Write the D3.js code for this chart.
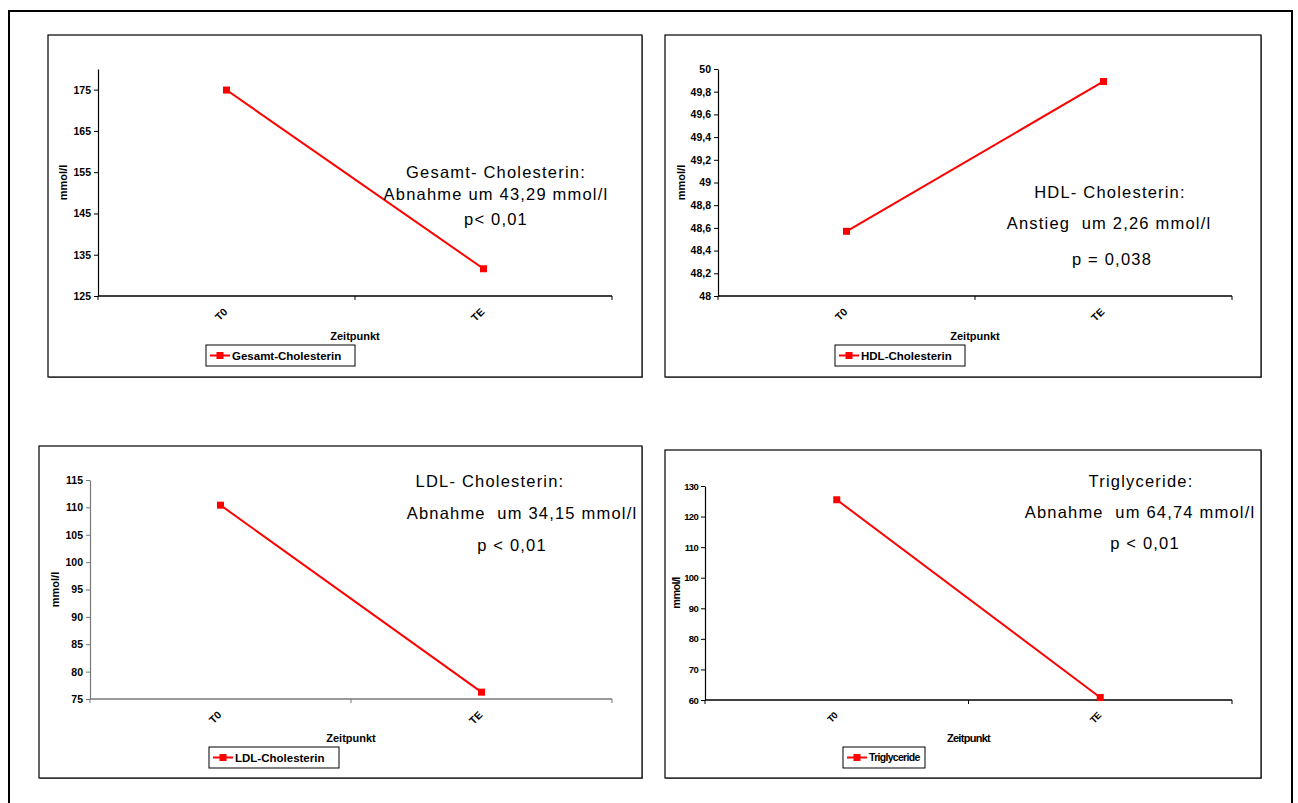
<!DOCTYPE html>
<html><head><meta charset="utf-8">
<script src="https://cdn.jsdelivr.net/npm/d3@7"></script>
<style>
html,body{margin:0;padding:0;background:#fff;}
svg{display:block;font-family:"Liberation Sans",Arial,sans-serif;}
</style></head>
<body>
<svg id="c" width="1298" height="803"></svg>
<script>
// ---- data ----
const categories = ["T0", "TE"];

const gesamtValues = [174.9, 131.6];
const gesamtTicks = [125, 135, 145, 155, 165, 175];
const gesamtDomain = [125, 180];

const hdlValues = [48.57, 49.89];
const hdlTicks = [48, 48.2, 48.4, 48.6, 48.8, 49, 49.2, 49.4, 49.6, 49.8, 50];
const hdlDomain = [48, 50];

const ldlValues = [110.4, 76.25];
const ldlTicks = [75, 80, 85, 90, 95, 100, 105, 110, 115];
const ldlDomain = [75, 115];

const trigValues = [125.5, 60.8];
const trigTicks = [60, 70, 80, 90, 100, 110, 120, 130];
const trigDomain = [60, 130];

const gesamtNotes = ["Gesamt- Cholesterin:", "Abnahme um 43,29 mmol/l", "p< 0,01"];
const hdlNotes = ["HDL- Cholesterin:", "Anstieg  um 2,26 mmol/l", "p = 0,038"];
const ldlNotes = ["LDL- Cholesterin:", "Abnahme  um 34,15 mmol/l", "p < 0,01"];
const trigNotes = ["Triglyceride:", "Abnahme  um 64,74 mmol/l", "p < 0,01"];

// ---- drawing ----
const svg = d3.select("#c");
svg.append("rect").attr("width",1298).attr("height",803).attr("fill","#fff");
// outer frame
svg.append("rect").attr("x",9).attr("y",11).attr("width",1283).attr("height",800)
  .attr("fill","none").attr("stroke","#000").attr("stroke-width",2);

const fmt = v => String(v).replace(".", ",");

function panel(cfg) {
  const g = svg.append("g");
  // frame
  g.append("rect").attr("x",cfg.box[0]+1).attr("y",cfg.box[1]+1)
    .attr("width",cfg.box[2]-cfg.box[0]).attr("height",cfg.box[3]-cfg.box[1])
    .attr("fill","#888");
  g.append("rect").attr("x",cfg.box[0]).attr("y",cfg.box[1])
    .attr("width",cfg.box[2]-cfg.box[0]).attr("height",cfg.box[3]-cfg.box[1])
    .attr("fill","#fff").attr("stroke","#000").attr("stroke-width",1.2);

  const [x0,x1,y0,y1] = cfg.plot; // left, right, top, bottom
  const x = d3.scaleBand().domain(categories).range([x0,x1]).paddingInner(0).paddingOuter(0);
  const y = d3.scaleLinear().domain(cfg.domain).range([y1,y0]);
  const ff = cfg.font;
  const axColor = cfg.axisColor || "#000";
  const ls = cfg.tickSpacing || 0;

  // y axis
  const ya = g.append("g").attr("transform",`translate(${x0},0)`)
    .call(d3.axisLeft(y).tickValues(cfg.ticks).tickSize(4).tickPadding(3).tickFormat(fmt).tickSizeOuter(0));
  ya.select(".domain").attr("stroke",axColor).attr("stroke-width",1.2);
  ya.selectAll(".tick line").attr("stroke",axColor);
  ya.selectAll("text").attr("font-family",ff).attr("font-size",cfg.tickSize||10.5)
    .attr("font-weight","bold").attr("fill","#000").attr("letter-spacing",ls);

  // x axis line and boundary ticks
  g.append("line").attr("x1",x0).attr("x2",x1).attr("y1",y1).attr("y2",y1)
    .attr("stroke",axColor).attr("stroke-width",1.5);
  const bounds = [x0, x.bandwidth()+x0, x1];
  g.selectAll(".bt").data(bounds).enter().append("line")
    .attr("x1",d=>d).attr("x2",d=>d).attr("y1",y1).attr("y2",y1+4)
    .attr("stroke",axColor).attr("stroke-width",1);
  // category labels
  g.selectAll(".cl").data(categories).enter().append("text")
    .attr("transform",d=>`translate(${x(d)+x.bandwidth()/2-1},${y1+14}) rotate(-45)`)
    .attr("text-anchor","end").attr("dy","0.35em")
    .attr("font-family",ff).attr("font-size",cfg.tickSize||10.5).attr("font-weight","bold")
    .attr("letter-spacing",ls)
    .text(d=>d);

  // axis titles
  g.append("text").attr("transform",`translate(${cfg.ylab[0]},${(y0+y1)/2}) rotate(-90)`)
    .attr("text-anchor","middle").attr("font-family",ff).attr("font-size",11)
    .attr("font-weight","bold").attr("letter-spacing",ls).text("mmol/l");
  g.append("text").attr("x",(x0+x1)/2).attr("y",cfg.xlab)
    .attr("text-anchor","middle").attr("font-family",ff).attr("font-size",11)
    .attr("font-weight","bold").attr("letter-spacing",ls).text("Zeitpunkt");

  // line
  const pts = categories.map((c,i)=>[x(c)+x.bandwidth()/2, y(cfg.values[i])]);
  g.append("path").attr("d",d3.line()(pts)).attr("fill","none")
    .attr("stroke","#ff0000").attr("stroke-width",2);
  g.selectAll(".mk").data(pts).enter().append("rect")
    .attr("x",d=>d[0]-3.5).attr("y",d=>d[1]-3.5).attr("width",7).attr("height",7)
    .attr("fill","#ff0000");

  // legend
  const [lx0,ly0,lx1,ly1] = cfg.legend;
  g.append("rect").attr("x",lx0).attr("y",ly0).attr("width",lx1-lx0).attr("height",ly1-ly0)
    .attr("fill","#fff").attr("stroke","#000").attr("stroke-width",1);
  const lm = (ly0+ly1)/2;
  g.append("line").attr("x1",lx0+4).attr("x2",lx0+24).attr("y1",lm).attr("y2",lm)
    .attr("stroke","#ff0000").attr("stroke-width",2);
  g.append("rect").attr("x",lx0+10.5).attr("y",lm-3.5).attr("width",7).attr("height",7).attr("fill","#ff0000");
  g.append("text").attr("x",lx0+26).attr("y",lm).attr("dy","0.35em")
    .attr("font-family",ff).attr("font-size",cfg.legSize||11.5).attr("font-weight","bold")
    .attr("letter-spacing",ls)
    .text(cfg.name);

  // annotations
  cfg.notes.forEach((t,i)=>{
    g.append("text").attr("x",cfg.notePos[i][0]).attr("y",cfg.notePos[i][1])
      .attr("dy","0.35em").attr("text-anchor","middle")
      .attr("font-family","Liberation Sans, Arial, sans-serif").attr("font-size",16.5)
      .attr("letter-spacing",1.2).attr("fill","#000")
      .style("white-space","pre").text(t);
  });
}

const normal = "Liberation Sans, Arial, sans-serif";

panel({box:[48,35,642,377], plot:[98,612,69,296], domain:gesamtDomain, ticks:gesamtTicks,
  values:gesamtValues, name:"Gesamt-Cholesterin", font:normal, ylab:[67], xlab:340,
  legend:[206,345,355,366], notes:gesamtNotes, notePos:[[496,172],[496,194],[496,219]]});
panel({box:[665,35,1261,377], plot:[718,1232,69,296], domain:hdlDomain, ticks:hdlTicks,
  values:hdlValues, name:"HDL-Cholesterin", font:normal, ylab:[685], xlab:340,
  legend:[835,345,965,366], notes:hdlNotes, notePos:[[1110,192],[1109,223],[1112,259]]});
panel({box:[39,446,642,778], plot:[90,612,480,699], domain:ldlDomain, ticks:ldlTicks,
  values:ldlValues, name:"LDL-Cholesterin", font:normal, ylab:[59], xlab:742, axisColor:"#777",
  legend:[209,747,339,768], notes:ldlNotes, notePos:[[490,481],[522,513],[512,545]]});
panel({box:[665,450,1261,778], plot:[705,1232,486,700], domain:trigDomain, ticks:trigTicks,
  values:trigValues, name:"Triglyceride", font:normal, ylab:[680], xlab:742, tickSize:9.5, legSize:10.5,
  tickSpacing:-0.7,
  legend:[843,747,925,768], notes:trigNotes, notePos:[[1141,481],[1140,512],[1145,543]]});
</script>
</body></html>
